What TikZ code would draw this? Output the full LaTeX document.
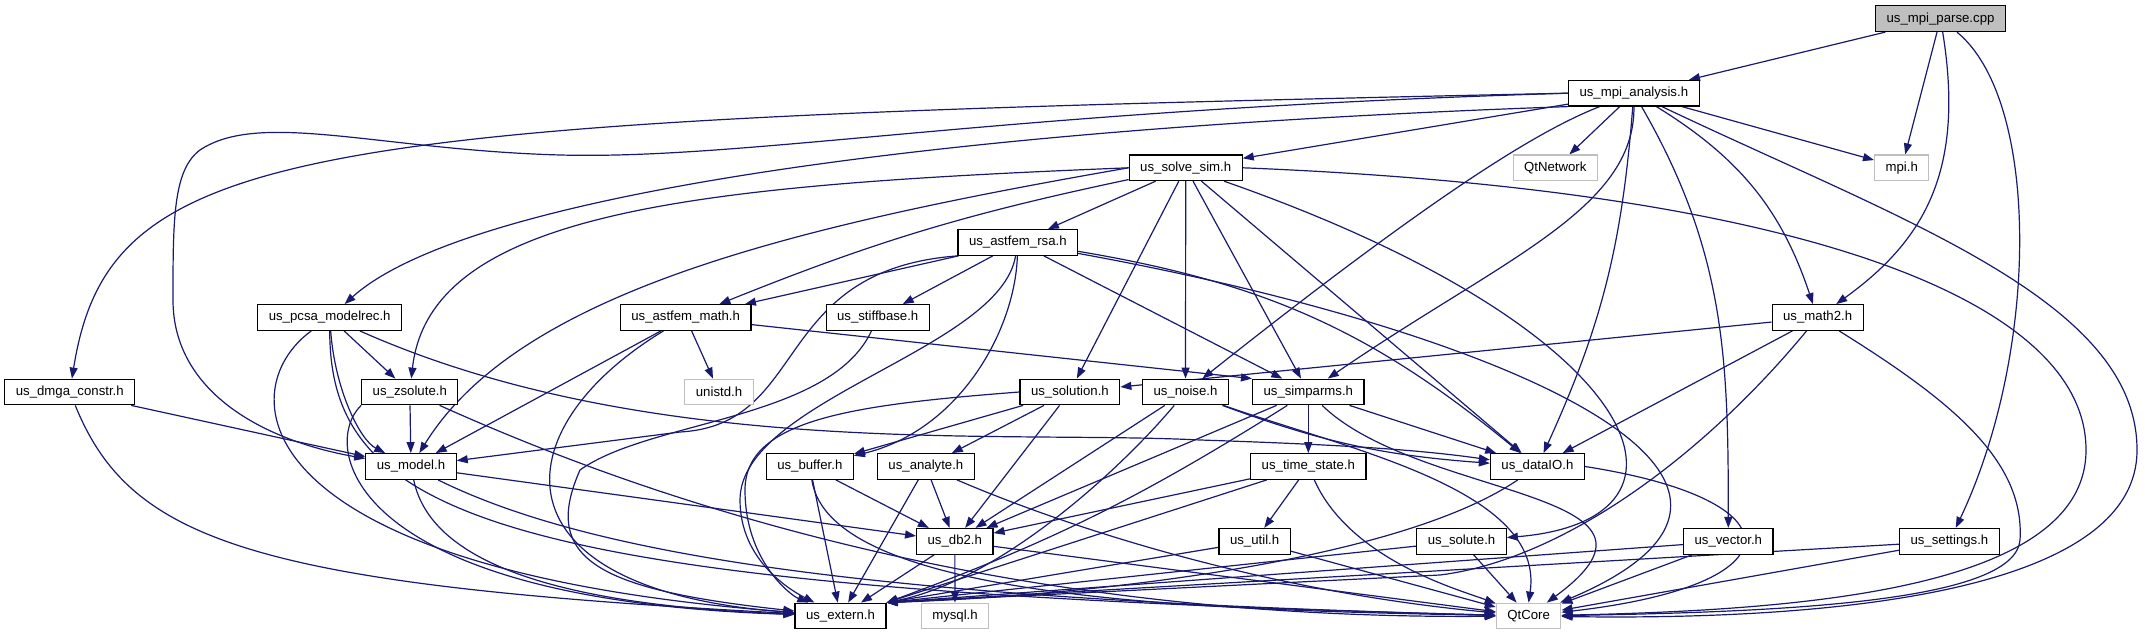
\documentclass[tikz,border=0pt]{standalone}
\usepackage{fontspec}
\setmainfont{Liberation Sans}
\usetikzlibrary{arrows.meta,backgrounds}
\definecolor{edgeblue}{HTML}{191970}
\definecolor{extgray}{HTML}{BFBFBF}

\begin{document}
\begin{tikzpicture}[x=0.5pt, y=-0.5pt, >={Triangle[length=5.5pt,width=4pt]},
    font=\fontsize{6.6pt}{8pt}\selectfont,
    b/.style={draw, line width=0.6pt, fill=white, minimum height=12.8pt, inner xsep=5.5pt, inner ysep=0pt},
    gb/.style={b, draw=extgray},
    dep/.style={->, draw=edgeblue, line width=0.6pt}]
  \useasboundingbox (0,0) rectangle (2145,635);

  % top rows
  \node[b, fill=extgray] (mp) at (1940.5,18.7) {us\_mpi\_parse.cpp};
  \node[b] (ma) at (1633.8,93.2) {us\_mpi\_analysis.h};
  \node[gb] (qn) at (1555.3,167.8) {QtNetwork};
  \node[gb] (mpi) at (1901.7,167.8) {mpi.h};
  \node[b] (ss) at (1185.7,167.8) {us\_solve\_sim.h};
  \node[b] (ar) at (1017.8,242.5) {us\_astfem\_rsa.h};
  \node[b] (pc) at (329.7,317.5) {us\_pcsa\_modelrec.h};
  \node[b] (am) at (685.6,317.5) {us\_astfem\_math.h};
  \node[b] (st) at (877.7,317.5) {us\_stiffbase.h};
  \node[b] (m2) at (1817.6,317.5) {us\_math2.h};
  % middle rows
  \node[b] (dm) at (69.8,392) {us\_dmga\_constr.h};
  \node[b] (zs) at (409.8,392) {us\_zsolute.h};
  \node[gb] (un) at (719,392) {unistd.h};
  \node[b] (sl) at (1069.9,392) {us\_solution.h};
  \node[b] (no) at (1185.5,392) {us\_noise.h};
  \node[b] (sp) at (1308.3,392) {us\_simparms.h};
  \node[b] (md) at (411,466.5) {us\_model.h};
  \node[b] (bu) at (809.8,466.5) {us\_buffer.h};
  \node[b] (an) at (925.9,466.5) {us\_analyte.h};
  \node[b] (ts) at (1308.3,466.5) {us\_time\_state.h};
  \node[b] (io) at (1537.4,466.5) {us\_dataIO.h};
  % bottom rows
  \node[b] (db) at (954.8,541.3) {us\_db2.h};
  \node[b] (ut) at (1254.6,541.3) {us\_util.h};
  \node[b] (su) at (1461.5,541.3) {us\_solute.h};
  \node[b] (ve) at (1728.3,541.3) {us\_vector.h};
  \node[b] (se) at (1949.4,541.3) {us\_settings.h};
  \node[b] (ex) at (840.5,616) {us\_extern.h};
  \node[gb] (my) at (955,616) {mysql.h};
  \node[gb] (qt) at (1528.6,616) {QtCore};

  \begin{scope}[on background layer]
  % us_mpi_parse.cpp
  \draw[dep] (mp) -- (ma);
  \draw[dep] (mp) -- (mpi);
  \draw[dep] (mp) .. controls (1965,170) and (1925,240) .. (m2);
  \draw[dep] (mp) .. controls (2040,100) and (2040,350) .. (se);
  % us_mpi_analysis.h
  \draw[dep] (ma) -- (ss);
  \draw[dep] (ma) -- (qn);
  \draw[dep] (ma) -- (mpi);
  \draw[dep] (ma) to[bend left=20] (m2);
  \draw[dep] (ma) to[bend left=10] (io);
  \draw[dep] (ma) .. controls (1635,210) and (1500,260) .. (sp);
  \draw[dep] (ma) .. controls (1540,130) and (1440,190) .. (no);
  \draw[dep] (ma) to[out=-60,in=90] (ve);
  \draw[dep] (ma) .. controls (1900,220) and (2137,300) .. (2137,450) .. controls (2137,600) and (1800,620) .. (qt);
  \draw[dep] (ma.west) .. controls (300,120) and (110,140) .. (dm);
  \draw[dep] (ma.west) .. controls (1000,110) and (750,160) .. (560,155) .. controls (380,150) and (260,110) .. (200,150) .. controls (173,170) and (173,220) .. (173,300) .. controls (173,390) and (260,440) .. (md);
  \draw[dep] (ma.south west) .. controls (900,130) and (460,200) .. (pc);
  % us_solve_sim.h
  \draw[dep] (ss) -- (ar);
  \draw[dep] (ss) -- (sl);
  \draw[dep] (ss) -- (no);
  \draw[dep] (ss) -- (sp);
  \draw[dep] (ss) -- (io);
  \draw[dep] (ss) to[bend right=5] (am);
  \draw[dep] (ss.west) .. controls (700,185) and (430,210) .. (zs);
  \draw[dep] (ss.west) .. controls (800,225) and (520,290) .. (md);
  \draw[dep] (ss) .. controls (1650,330) and (1720,520) .. (su);
  \draw[dep] (ss.east) .. controls (1800,190) and (2086,300) .. (2086,450) .. controls (2086,590) and (1800,610) .. (qt);
  % us_astfem_rsa.h
  \draw[dep] (ar) -- (am);
  \draw[dep] (ar) -- (st);
  \draw[dep] (ar) -- (sp);
  \draw[dep] (ar) to[bend left=15] (io);
  \draw[dep] (ar) .. controls (1015,330) and (960,430) .. (bu);
  \draw[dep] (ar.south west) .. controls (770,270) and (810,425) .. (680,432) -- (md);
  \draw[dep] (ar) .. controls (1000,350) and (740,400) .. (740,500) .. controls (740,560) and (790,590) .. (ex);
  \draw[dep] (ar) .. controls (1500,330) and (1850,480) .. (qt);
  % us_pcsa_modelrec.h
  \draw[dep] (pc) -- (zs);
  \draw[dep] (pc) .. controls (335,390) and (360,440) .. (md);
  \draw[dep] (pc) .. controls (230,390) and (240,570) .. (ex);
  \draw[dep] (pc) .. controls (330,520) and (500,590) .. (qt);
  \draw[dep] (pc) .. controls (650,460) and (1000,430) .. (1200,440) .. controls (1350,445) and (1420,450) .. (io);
  % us_astfem_math.h, us_stiffbase.h
  \draw[dep] (am) -- (un);
  \draw[dep] (am) -- (md);
  \draw[dep] (am) -- (sp.north west);
  \draw[dep] (am) .. controls (500,430) and (490,590) .. (ex);
  \draw[dep] (st) .. controls (830,420) and (650,420) .. (580,470) .. controls (540,560) and (600,590) .. (ex);
  % us_dmga_constr.h, us_zsolute.h
  \draw[dep] (dm) -- (md);
  \draw[dep] (dm) .. controls (130,540) and (250,585) .. (ex);
  \draw[dep] (zs) -- (md);
  \draw[dep] (zs.south west) .. controls (320,445) and (345,600) .. (ex);
  \draw[dep] (zs) .. controls (650,500) and (1000,620) .. (qt);
  % us_model.h
  \draw[dep] (md) -- (db);
  \draw[dep] (md) .. controls (430,560) and (550,605) .. (ex);
  \draw[dep] (md) .. controls (600,560) and (900,600) .. (qt);
  % us_solution.h
  \draw[dep] (sl) -- (bu);
  \draw[dep] (sl) -- (an);
  \draw[dep] (sl) -- (db);
  \draw[dep] (sl.west) .. controls (850,405) and (745,420) .. (745,490) .. controls (745,560) and (790,595) .. (ex);
  % us_noise.h
  \draw[dep] (no) -- (db);
  \draw[dep] (no) to[bend right=8] (io);
  \draw[dep] (no) .. controls (1120,470) and (1000,580) .. (ex.north east);
  \draw[dep] (no) .. controls (1350,450) and (1545,490) .. (qt.north);
  % us_simparms.h
  \draw[dep] (sp) -- (ts);
  \draw[dep] (sp) -- (db);
  \draw[dep] (sp) -- (io);
  \draw[dep] (sp) to[bend left=6] (ex.north east);
  \draw[dep] (sp) .. controls (1420,500) and (1700,490) .. (qt);
  % us_time_state.h
  \draw[dep] (ts) -- (db);
  \draw[dep] (ts) -- (ut);
  \draw[dep] (ts) -- (ex.north east);
  \draw[dep] (ts) .. controls (1350,560) and (1460,590) .. (qt);
  % us_buffer.h, us_analyte.h
  \draw[dep] (bu) -- (ex);
  \draw[dep] (bu) -- (db);
  \draw[dep] (bu) .. controls (830,600) and (1200,610) .. (qt);
  \draw[dep] (an) -- (ex);
  \draw[dep] (an) -- (db);
  \draw[dep] (an) .. controls (1050,520) and (1250,590) .. (qt);
  % us_db2.h, us_util.h
  \draw[dep] (db) -- (ex);
  \draw[dep] (db) -- (my);
  \draw[dep] (db) -- (qt);
  \draw[dep] (ut) -- (ex.north east);
  \draw[dep] (ut) -- (qt);
  % us_dataIO.h
  \draw[dep] (io) .. controls (1400,560) and (1100,595) .. (ex.north east);
  \draw[dep] (io.east) .. controls (1800,500) and (1800,585) .. (qt);
  % us_solute.h, us_vector.h, us_settings.h
  \draw[dep] (su) -- (ex.north east);
  \draw[dep] (su) -- (qt);
  \draw[dep] (ve) -- (ex.north east);
  \draw[dep] (ve) -- (qt);
  \draw[dep] (se) -- (ex.north east);
  \draw[dep] (se) -- (qt);
  % us_math2.h
  \draw[dep] (m2) -- (sl);
  \draw[dep] (m2) -- (io);
  \draw[dep] (m2) .. controls (1700,460) and (1560,560) .. (1440,575) -- (ex.north east);
  \draw[dep] (m2) .. controls (1950,400) and (2025,460) .. (2020,540) .. controls (2015,600) and (1800,612) .. (qt);
  \end{scope}
\end{tikzpicture}
\end{document}
